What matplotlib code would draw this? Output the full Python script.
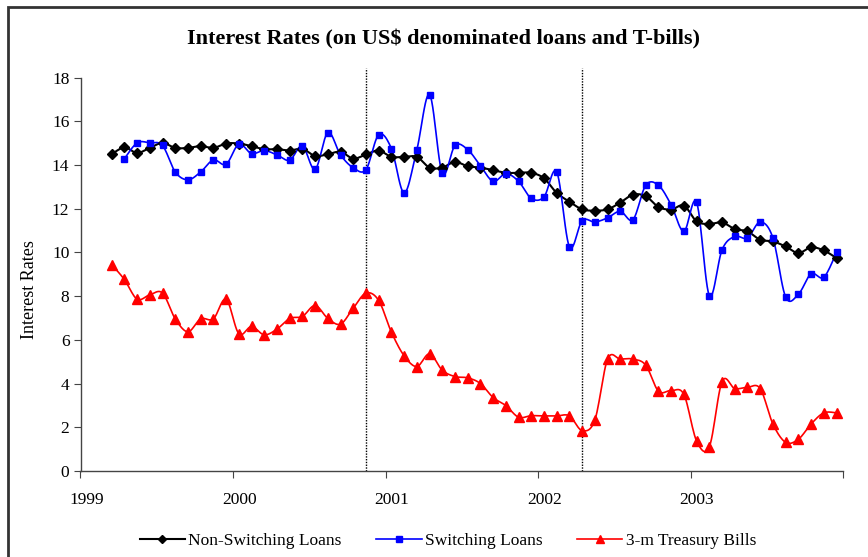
import numpy as np
import pandas as pd
import matplotlib
matplotlib.use('Agg')
import matplotlib.pyplot as plt
import matplotlib.transforms as mtransforms
from matplotlib.lines import Line2D
from matplotlib.patches import Rectangle

plt.rcParams['font.family'] = ['Liberation Serif', 'DejaVu Serif']

# monthly observations, Mar 1999 - Dec 2003
months_all = pd.date_range('1999-03-01', '2003-12-01', freq='MS')
months_sw = pd.date_range('1999-04-01', '2003-12-01', freq='MS')

non_switching = [14.49, 14.80, 14.55, 14.78, 15.01, 14.78, 14.78, 14.86, 14.78, 14.98,
                 14.98, 14.86, 14.72, 14.72, 14.66, 14.74, 14.41, 14.49, 14.60, 14.29, 14.48, 14.66,
                 14.37, 14.37, 14.37, 13.88, 13.88, 14.14, 13.94, 13.88, 13.76, 13.64, 13.64, 13.64,
                 13.39, 12.72, 12.32, 11.97, 11.91, 11.97, 12.28, 12.64, 12.57, 12.08, 11.96, 12.14,
                 11.42, 11.30, 11.37, 11.07, 10.96, 10.58, 10.50, 10.27, 9.97, 10.23, 10.09, 9.74]

switching = [14.28, 15.01, 15.01, 14.89, 13.68, 13.32, 13.68, 14.23, 14.03,
             14.95, 14.52, 14.66, 14.46, 14.22, 14.87, 13.80, 15.48, 14.46, 13.87, 13.79, 15.38,
             14.75, 12.72, 14.70, 17.22, 13.62, 14.89, 14.70, 13.96, 13.25, 13.60, 13.25, 12.47,
             12.54, 13.68, 10.25, 11.45, 11.39, 11.58, 11.88, 11.50, 13.07, 13.07, 12.17, 10.96,
             12.29, 8.02, 10.12, 10.73, 10.66, 11.39, 10.66, 7.96, 8.08, 9.02, 8.86, 10.00]

tbills = [9.44, 8.76, 7.86, 8.06, 8.14, 6.96, 6.37, 6.96, 6.96, 7.86,
          6.28, 6.61, 6.23, 6.49, 6.98, 7.07, 7.57, 6.98, 6.72, 7.45, 8.14, 7.80,
          6.35, 5.27, 4.78, 5.36, 4.61, 4.32, 4.26, 4.00, 3.36, 2.99, 2.46, 2.53,
          2.52, 2.52, 2.52, 1.85, 2.34, 5.12, 5.12, 5.12, 4.84, 3.65, 3.68, 3.50,
          1.37, 1.11, 4.09, 3.77, 3.83, 3.77, 2.15, 1.31, 1.45, 2.15, 2.66, 2.66]

event_months = pd.to_datetime(['2000-11-01', '2002-04-01'])
year_ticks = [1999, 2000, 2001, 2002, 2003, 2004]
year_labels = ['1999', '2000', '2001', '2002', '2003', '']


def to_year(d):
    # points sit mid-month
    return d.year + (d.month - 1 + 0.45) / 12.0


def smooth(x, y, n=12):
    # excel-like smoothed line (catmull-rom bezier)
    x = np.asarray(x, float)
    y = np.asarray(y, float)
    P = np.column_stack([x, y])
    out = [P[0]]
    t = np.linspace(0, 1, n + 1)[1:]
    for i in range(len(P) - 1):
        p0 = P[i - 1] if i > 0 else P[i]
        p1, p2 = P[i], P[i + 1]
        p3 = P[i + 2] if i + 2 < len(P) else P[i + 1]
        c1 = p1 + (p2 - p0) / 6.0
        c2 = p2 - (p3 - p1) / 6.0
        for tt in t:
            out.append((1 - tt) ** 3 * p1 + 3 * (1 - tt) ** 2 * tt * c1
                       + 3 * (1 - tt) * tt ** 2 * c2 + tt ** 3 * p2)
    out = np.array(out)
    return out[:, 0], out[:, 1]


x_all = np.array([to_year(d) for d in months_all])
x_sw = np.array([to_year(d) for d in months_sw])
x_ev = [to_year(d) for d in event_months]

fig = plt.figure(figsize=(8.68, 5.57), dpi=100)
ax = fig.add_axes([80.5 / 868, 86 / 557, 763 / 868, 393.5 / 557])

series = [
    (x_all, non_switching, 'black', 'D', 5.5, 'Non-Switching Loans'),
    (x_sw, switching, '#0000FF', 's', 5, 'Switching Loans'),
    (x_all, tbills, '#FF0000', '^', 6.5, '3-m Treasury Bills'),
]
handles = []
for xs, ys, col, mk, ms, lab in series:
    sx, sy = smooth(xs, ys)
    lw = 1.2 if col != 'black' else 1.5
    ax.plot(sx, sy, color=col, lw=lw, zorder=3)
    ax.plot(xs, ys, ls='none', marker=mk, ms=ms, color=col, mec=col, zorder=4)
    handles.append(Line2D([], [], color=col, lw=lw, marker=mk, ms=ms - 1, label=lab))

for xv in x_ev:
    ax.vlines(xv, 0, 18.45, colors='black', linestyles=(0, (1, 1)), lw=1, clip_on=False, zorder=2)

ax.set_xlim(1999, 2004)
ax.set_ylim(0, 18)
ax.set_xticks(year_ticks)
ax.set_xticklabels(year_labels)
ax.set_yticks(range(0, 19, 2))
for s in ['top', 'right']:
    ax.spines[s].set_visible(False)
for s in ['left', 'bottom']:
    ax.spines[s].set_color('#444444')
    ax.spines[s].set_linewidth(1)
ax.tick_params(axis='both', direction='out', length=5, color='#444444', labelsize=12.5)
ax.tick_params(axis='x', pad=10)
ax.tick_params(axis='y', pad=3)
offset = mtransforms.ScaledTranslation(6 / 100, 0, fig.dpi_scale_trans)
for lbl in ax.get_xticklabels():
    lbl.set_transform(lbl.get_transform() + offset)

ax.set_ylabel('Interest Rates', fontsize=13)
ax.yaxis.set_label_coords(-0.056, 0.46)

fig.text(443 / 868, 1 - 39 / 557, 'Interest Rates (on US$ denominated loans and T-bills)',
         ha='center', va='center', fontsize=16, fontweight='bold')

fig.legend(handles=handles, loc='center', bbox_to_anchor=(448 / 868, 1 - 541 / 557),
           ncol=3, frameon=False, fontsize=12.5, handlelength=2.6, handletextpad=0.2,
           columnspacing=2.0)

# chart frame (right and bottom edges fall outside the picture)
fig.patches.append(Rectangle((8 / 868, -0.05), 1.2, 1 - 7 / 557 + 0.05,
                             transform=fig.transFigure, fill=False,
                             edgecolor='#333333', lw=2))

fig.savefig('out.png', dpi=100)
